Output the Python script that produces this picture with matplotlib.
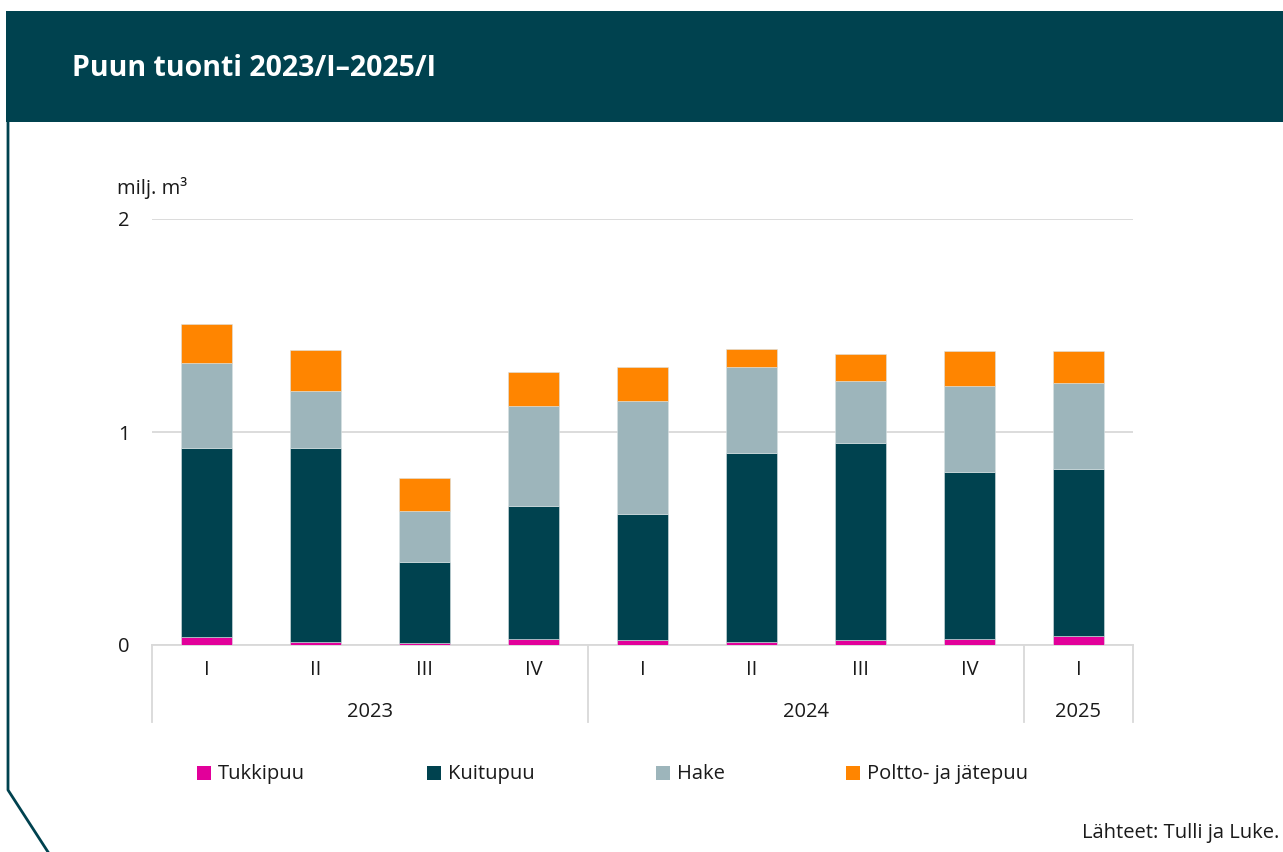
import matplotlib
matplotlib.use("Agg")
import matplotlib.pyplot as plt
import matplotlib.patches as patches
import numpy as np

plt.rcParams['font.family'] = ['Open Sans', 'DejaVu Sans']

# Data (milj. m3)
quarters = ["I", "II", "III", "IV", "I", "II", "III", "IV", "I"]
years = ["2023", "2024", "2025"]
year_counts = [4, 4, 1]

tukkipuu = [0.038, 0.016, 0.009, 0.028, 0.022, 0.016, 0.022, 0.028, 0.044]
kuitupuu = [0.885, 0.907, 0.381, 0.626, 0.592, 0.884, 0.925, 0.783, 0.784]
hake = [0.400, 0.270, 0.237, 0.467, 0.533, 0.404, 0.291, 0.404, 0.404]
poltto = [0.184, 0.190, 0.157, 0.161, 0.157, 0.085, 0.129, 0.163, 0.146]

series = [
    ("Tukkipuu", tukkipuu, "#E2009A"),
    ("Kuitupuu", kuitupuu, "#00424F"),
    ("Hake", hake, "#9DB5BB"),
    ("Poltto- ja jätepuu", poltto, "#FF8500"),
]

W, H = 1283, 852
FS = 14.5
TXT = "#1A1A1A"
fig = plt.figure(figsize=(W / 100, H / 100), dpi=100)
fig.patch.set_facecolor("white")

# header band
fig.patches.append(patches.Rectangle((6 / W, 1 - 122 / H), 1 - 6 / W, 111 / H,
                                     transform=fig.transFigure, facecolor="#00424F",
                                     edgecolor="none"))
fig.text(72 / W, 1 - 68 / H, "Puun tuonti 2023/I–2025/I", color="white",
         fontsize=20.5, fontweight="bold", ha="left", va="center")

# left frame line with diagonal corner
fig.add_artist(plt.Line2D([8 / W, 8 / W, 48 / W], [1 - 122 / H, 1 - 790 / H, 0],
                          transform=fig.transFigure, color="#00424F", linewidth=2))

# plot area
ax = fig.add_axes([152 / W, 1 - 645 / H, (1133 - 152) / W, (645 - 219) / H])
x = np.arange(len(quarters))
bottom = np.zeros(len(quarters))
for name, vals, col in series:
    ax.bar(x, vals, width=0.46, bottom=bottom, color=col, edgecolor="#D8E2E4",
           linewidth=0.4, label=name, zorder=3)
    bottom += np.array(vals)

ax.set_xlim(-0.5, len(quarters) - 0.5)
ax.set_ylim(0, 2)
ax.set_yticks([0, 1, 2])
ax.set_yticklabels(["0", "1", "2"])
ax.yaxis.grid(True, color="#D9D9D9", linewidth=1.3, zorder=0)
for s in ["top", "right", "left"]:
    ax.spines[s].set_visible(False)
ax.spines["bottom"].set_color("#D9D9D9")
ax.spines["bottom"].set_linewidth(1.3)
ax.tick_params(axis="y", length=0, pad=16, labelsize=FS, labelcolor=TXT)
ax.set_xticks(x)
ax.set_xticklabels(quarters)
ax.tick_params(axis="x", length=0, pad=11, labelsize=FS, labelcolor=TXT)

# year groups and separators below the axis
trans = ax.get_xaxis_transform()
edge = -0.5
ax.plot([edge, edge], [0, -0.181], transform=trans, color="#D9D9D9",
        linewidth=1.3, clip_on=False)
for yr, n in zip(years, year_counts):
    ax.text(edge + n / 2, -0.157, yr, transform=trans, ha="center", va="center",
            fontsize=FS, color=TXT)
    edge += n
    ax.plot([edge, edge], [0, -0.181], transform=trans, color="#D9D9D9",
            linewidth=1.3, clip_on=False)

fig.text(117 / W, 1 - 188 / H, "milj. m³", fontsize=FS, color=TXT,
         ha="left", va="center")

# legend
leg_x = [197, 427, 656, 846]
for (name, vals, col), lx in zip(series, leg_x):
    fig.patches.append(patches.Rectangle((lx / W, 1 - 780 / H), 14 / W, 14 / H,
                                         transform=fig.transFigure, facecolor=col,
                                         edgecolor="none"))
    fig.text((lx + 21) / W, 1 - 774 / H, name, fontsize=FS, color=TXT,
             ha="left", va="center")

fig.text(1279 / W, 1 - 833 / H, "Lähteet: Tulli ja Luke.", fontsize=FS,
         color=TXT, ha="right", va="center")

fig.savefig("out.png", dpi=100)
